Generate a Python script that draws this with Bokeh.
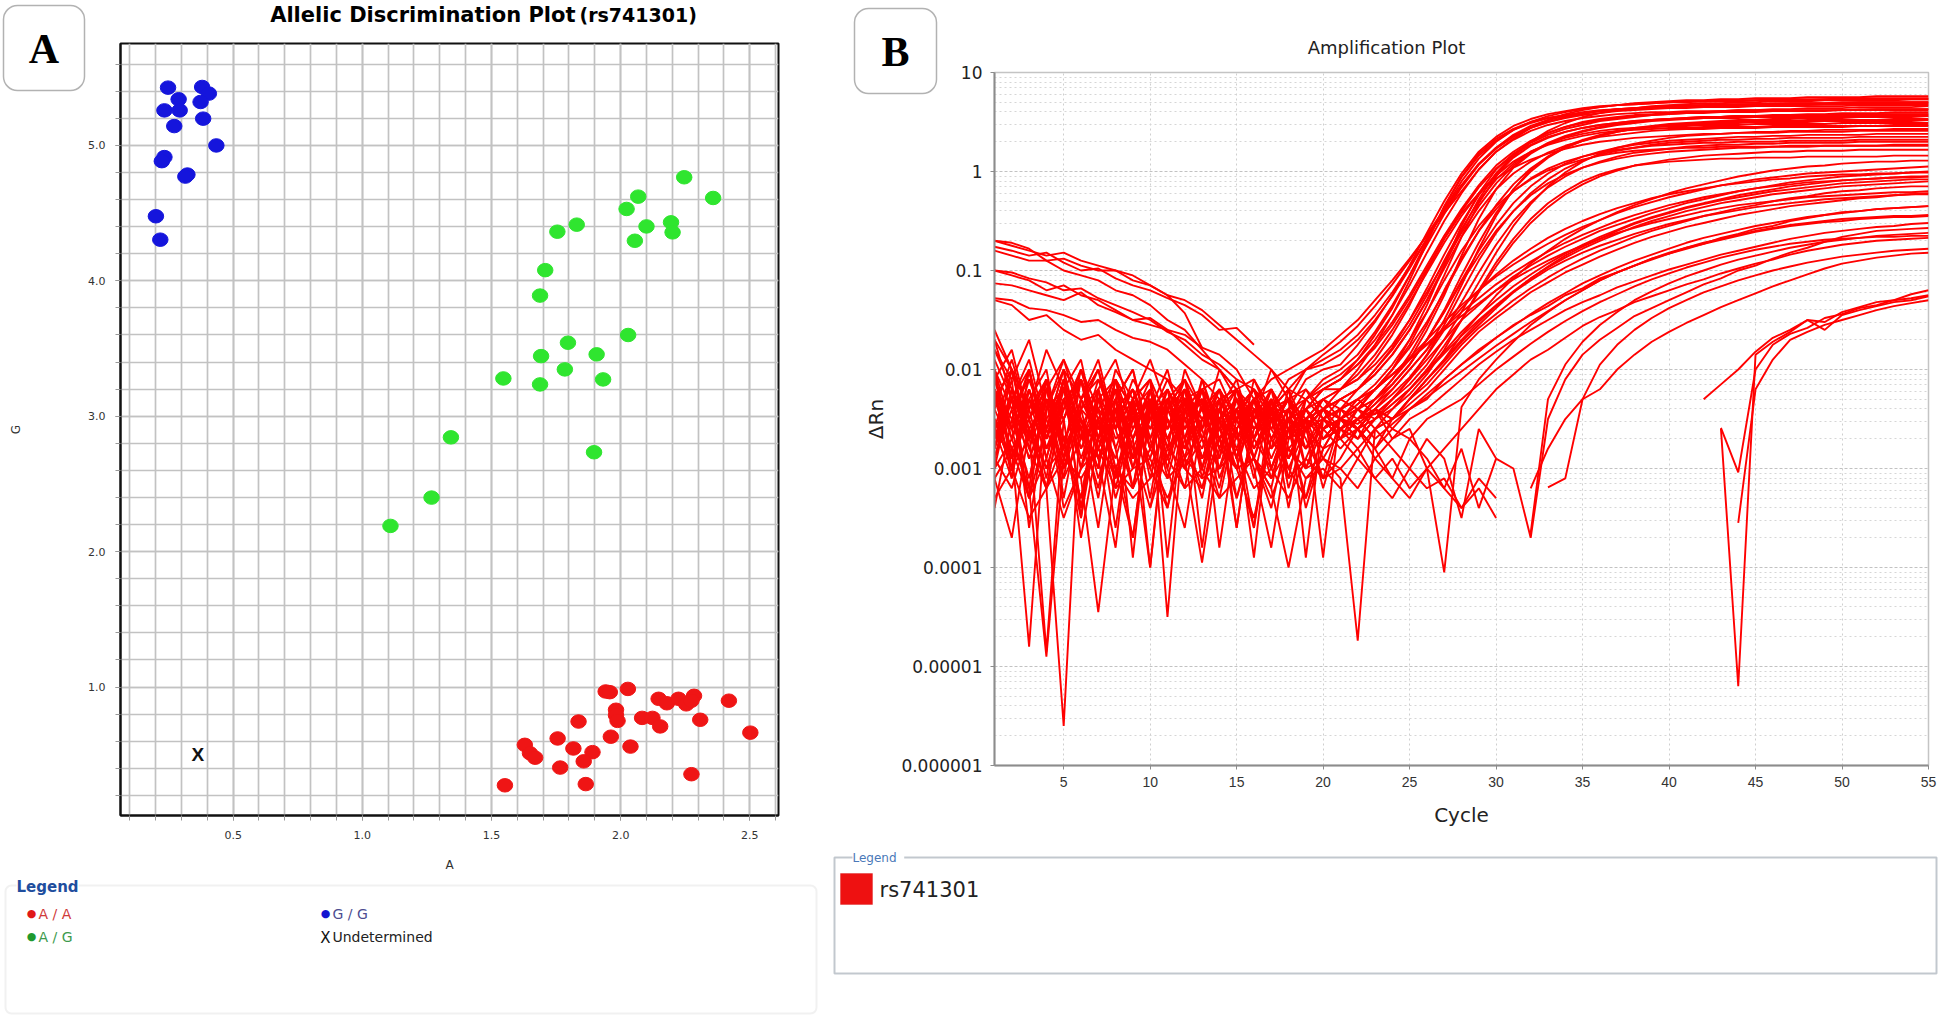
from bokeh.plotting import figure
from bokeh.models import (Range1d, FixedTicker, PrintfTickFormatter, CustomJSTickFormatter,
                          Label, BoxAnnotation, ColumnDataSource, GridBox)
from bokeh.layouts import row
from bokeh.embed import file_html
from bokeh.resources import INLINE
from bokeh.core.properties import value

nan = float("nan")

# ---------------- Panel A : allelic discrimination (A-allele vs G-allele signal)
aa_x = [1.942, 1.958, 2.028, 2.147, 2.179, 2.224, 2.254, 2.284, 2.274, 2.419,
        1.982, 1.982, 1.988, 1.837, 2.083, 2.123, 2.153, 2.308, 2.502, 1.756,
        1.962, 1.629, 1.649, 1.669, 1.817, 1.891, 1.857, 2.038, 1.766, 2.274,
        1.552, 1.865]
aa_y = [0.967, 0.962, 0.986, 0.913, 0.880, 0.913, 0.872, 0.935, 0.899, 0.899,
        0.832, 0.791, 0.750, 0.745, 0.772, 0.772, 0.709, 0.758, 0.663, 0.620,
        0.633, 0.573, 0.511, 0.478, 0.546, 0.519, 0.451, 0.560, 0.405, 0.356,
        0.274, 0.283]
ag_x = [2.246, 2.358, 2.023, 2.068, 2.100, 2.055, 2.195, 2.201, 1.755, 1.830,
        1.708, 1.688, 2.029, 1.796, 1.692, 1.907, 1.784, 1.546, 1.688, 1.932,
        1.343, 1.897, 1.268, 1.109]
ag_y = [4.765, 4.612, 4.531, 4.622, 4.402, 4.296, 4.432, 4.358, 4.363, 4.415,
        4.079, 3.891, 3.600, 3.543, 3.444, 3.457, 3.346, 3.279, 3.235, 3.272,
        2.844, 2.734, 2.399, 2.190]
gg_x = [0.248, 0.380, 0.406, 0.289, 0.234, 0.293, 0.374, 0.384, 0.272, 0.435,
        0.234, 0.224, 0.323, 0.315, 0.201, 0.218]
gg_y = [5.427, 5.432, 5.383, 5.341, 5.259, 5.259, 5.321, 5.198, 5.143, 5.000,
        4.914, 4.884, 4.785, 4.770, 4.477, 4.304]
und_x = [0.363]
und_y = [0.505]

a_major_x = [0.5, 1.0, 1.5, 2.0, 2.5]
a_minor_x = [0.1, 0.2, 0.3, 0.4, 0.5, 0.6, 0.7, 0.8, 0.9, 1.0, 1.1, 1.2, 1.3,
             1.4, 1.5, 1.6, 1.7, 1.8, 1.9, 2.0, 2.1, 2.2, 2.3, 2.4, 2.5, 2.6]
a_major_y = [1.0, 2.0, 3.0, 4.0, 5.0]
a_minor_y = [0.2, 0.4, 0.6, 0.8, 1.0, 1.2, 1.4, 1.6, 1.8, 2.0, 2.2, 2.4, 2.6,
             2.8, 3.0, 3.2, 3.4, 3.6, 3.8, 4.0, 4.2, 4.4, 4.6, 4.8, 5.0, 5.2,
             5.4, 5.6]

# ---------------- Panel B : amplification curves, log10(delta Rn) per cycle
cycles = list(range(1, 56))
b_major_x = [5, 10, 15, 20, 25, 30, 35, 40, 45, 50, 55]
b_major_y = [1e-6, 1e-5, 1e-4, 1e-3, 1e-2, 1e-1, 1.0, 10.0]

well_01 = [-1.8, -2.1, -1.7, -2.4, -1.9, -2.3, -2.0, -2.6, -2.1, -2.4,
           -2.0, -2.7, -2.2, -2.1, -2.5, -2.3, -2.1, -2.0, -1.9, -1.8,
           -1.65, -1.5, -1.3, -1.1, -0.88, -0.65, -0.42, -0.2, 0.02, 0.2,
           0.33, 0.44, 0.52, 0.58, 0.62, 0.65, 0.67, 0.69, 0.7, 0.71,
           0.72, 0.72, 0.73, 0.73, 0.74, 0.74, 0.74, 0.75, 0.75, 0.75,
           0.75, 0.76, 0.76, 0.76, 0.76]
well_02 = [-1.7, -2.0, -2.7, -2.2, -1.9, -2.5, -3.0, -2.1, -2.6, -2.3,
           -3.1, -2.4, -2.2, -2.8, -2.3, -2.9, -3.4, -2.6, -2.4, -2.7,
           -2.5, -2.3, -2.2, -2.0, -1.7, -1.35, -0.95, -0.55, -0.22, 0.02,
           0.18, 0.29, 0.37, 0.43, 0.47, 0.51, 0.53, 0.55, 0.57, 0.58,
           0.59, 0.6, 0.61, 0.62, 0.62, 0.63, 0.63, 0.64, 0.64, 0.64,
           0.65, 0.65, 0.65, 0.65, 0.66]
well_03 = [-2.9, -2.2, -2.6, -4.85, -2.5, -2.0, -2.6, -2.3, -3.2, -2.2,
           -2.6, -2.2, -3.1, -2.4, -2.1, -2.7, -2.3, -3.1, -2.9, -2.5,
           -2.7, -2.4, -2.3, -2.1, -1.9, -1.6, -1.25, -0.85, -0.48, -0.18,
           0.04, 0.18, 0.28, 0.35, 0.4, 0.44, 0.47, 0.49, 0.51, 0.52,
           0.53, 0.54, 0.55, 0.56, 0.56, 0.57, 0.57, 0.58, 0.58, 0.59,
           0.59, 0.59, 0.6, 0.6, 0.6]
well_04 = [-2.2, -3.1, -2.0, -2.7, -2.1, -3.4, -2.3, -2.8, -3.7, -2.4,
           -2.4, -2.1, -3.0, -2.3, -3.6, -2.4, -2.8, -2.2, -3.0, -2.6,
           -2.4, -2.6, -2.4, -2.2, -2.0, -1.8, -1.5, -1.15, -0.78, -0.45,
           -0.18, 0.02, 0.15, 0.25, 0.32, 0.37, 0.41, 0.44, 0.46, 0.48,
           0.49, 0.5, 0.51, 0.52, 0.52, 0.53, 0.53, 0.54, 0.54, 0.54,
           0.55, 0.55, 0.55, 0.55, 0.56]
well_05 = [-1.9, -2.3, -3.2, -2.1, -2.9, -2.4, -2.0, -2.8, -2.3, -4.0,
           -2.3, -2.9, -2.1, -2.7, -3.0, -2.3, -2.5, -3.1, -2.3, -2.2,
           -2.2, -2.1, -1.9, -1.65, -1.35, -1.0, -0.68, -0.42, -0.22, -0.07,
           0.04, 0.12, 0.18, 0.23, 0.27, 0.3, 0.32, 0.34, 0.35, 0.36,
           0.37, 0.38, 0.38, 0.39, 0.39, 0.39, 0.4, 0.4, 0.4, 0.4,
           0.41, 0.41, 0.41, 0.41, 0.41]
well_06 = [-2.6, -2.0, -2.4, -3.1, -2.1, -2.6, -3.2, -2.3, -2.0, -2.8,
           -2.2, -3.0, -2.5, nan, -2.3, -2.7, -2.2, -2.9, -2.5, -2.9,
           -2.6, -2.5, -2.3, -2.1, -1.85, -1.55, -1.2, -0.88, -0.6, -0.38,
           -0.2, -0.07, 0.03, 0.1, 0.15, 0.19, 0.22, 0.24, 0.26, 0.27,
           0.28, 0.29, 0.29, 0.3, 0.3, 0.3, 0.31, 0.31, 0.31, 0.31,
           0.32, 0.32, 0.32, 0.32, 0.32]
well_07 = [-3.0, -2.2, -2.7, -2.1, -3.3, -2.4, -2.2, -3.0, -2.6, -2.2,
           -2.9, -2.4, -2.3, -3.8, -2.6, -2.3, -3.0, -2.5, -2.6, -2.8,
           -2.5, -2.4, -2.2, -2.0, -1.75, -1.42, -1.05, -0.66, -0.32, -0.05,
           0.15, 0.3, 0.41, 0.49, 0.55, 0.59, 0.62, 0.64, 0.66, 0.67,
           0.68, 0.69, 0.69, 0.7, 0.7, 0.71, 0.71, 0.71, 0.72, 0.72,
           0.72, 0.72, 0.72, 0.73, 0.73]
well_08 = [-0.8, -0.85, -0.9, -0.9, -1.0, -1.05, -1.1, -1.2, -1.25, -1.35,
           -1.5, -1.6, -1.8, -2.0, -2.2, -2.4, -2.5, -2.3, -2.6, -2.4,
           -2.3, -2.2, -2.0, -1.8, -1.55, -1.25, -0.9, -0.58, -0.3, -0.08,
           0.08, 0.2, 0.28, 0.34, 0.38, 0.41, 0.43, 0.44, 0.45, 0.46,
           0.46, 0.47, 0.47, 0.47, 0.48, 0.48, 0.48, 0.48, 0.48, 0.49,
           0.49, 0.49, 0.49, 0.49, 0.49]
well_09 = [-1.3, -1.35, -1.5, -1.45, -1.6, -1.7, -1.65, -1.8, -1.9, -2.0,
           -2.1, -2.3, -2.2, -2.5, -2.4, -2.7, -2.4, -2.6, -2.5, -2.3,
           -2.4, -2.2, -2.05, -1.85, -1.6, -1.3, -0.95, -0.6, -0.28, -0.02,
           0.17, 0.3, 0.39, 0.45, 0.5, 0.53, 0.55, 0.57, 0.58, 0.59,
           0.6, 0.6, 0.61, 0.61, 0.61, 0.62, 0.62, 0.62, 0.62, 0.62,
           0.62, 0.63, 0.63, 0.63, 0.63]
well_10 = [-2.7, -2.1, -3.6, -2.4, -2.2, -2.9, -2.4, -2.1, -3.0, -2.4,
           -2.3, -2.8, -2.2, -3.1, -2.6, -3.9, -2.4, -3.4, -2.5, -2.6,
           -2.5, -2.7, -2.5, -2.3, -2.1, -1.85, -1.55, -1.22, -0.9, -0.62,
           -0.4, -0.22, -0.08, 0.03, 0.11, 0.17, 0.21, 0.24, 0.27, 0.29,
           0.3, 0.31, 0.32, 0.32, 0.33, 0.33, 0.34, 0.34, 0.34, 0.34,
           0.35, 0.35, 0.35, 0.35, 0.35]
well_11 = [-2.1, -2.7, -2.3, -2.0, -2.9, -2.3, -2.1, -2.6, -2.3, -3.1,
           -2.4, -2.7, -3.3, -2.4, -2.9, -2.3, -2.7, -2.5, -2.2, -2.4,
           -2.2, -2.0, -1.75, -1.45, -1.1, -0.72, -0.35, -0.05, 0.18, 0.33,
           0.43, 0.5, 0.54, 0.57, 0.59, 0.61, 0.62, 0.63, 0.64, 0.65,
           0.65, 0.66, 0.66, 0.66, 0.67, 0.67, 0.67, 0.67, 0.68, 0.68,
           0.68, 0.68, 0.68, 0.68, 0.68]
well_12 = [-2.0, -2.9, -2.5, -2.1, -2.8, -2.0, -2.4, -3.0, -3.7, -2.4,
           -2.7, -2.3, -2.9, -2.5, -3.6, -2.4, -2.6, -2.3, -2.8, -2.5,
           -2.4, -2.3, -2.15, -1.95, -1.7, -1.42, -1.1, -0.8, -0.55, -0.35,
           -0.2, -0.08, 0.01, 0.07, 0.12, 0.16, 0.19, 0.21, 0.22, 0.23,
           0.24, 0.24, 0.25, 0.25, 0.25, 0.25, 0.26, 0.26, 0.26, 0.26,
           0.26, 0.26, 0.26, 0.26, 0.26]
well_13 = [-1.8, -2.2, -2.8, -3.2, -5.6, -2.3, -1.9, -2.6, -2.2, -2.8,
           -2.3, -2.1, -2.7, -3.0, -2.4, -2.2, -2.7, -2.4, -2.1, -2.0,
           -1.95, -1.75, -1.52, -1.25, -0.95, -0.62, -0.3, -0.02, 0.2, 0.35,
           0.46, 0.53, 0.58, 0.61, 0.64, 0.66, 0.67, 0.68, 0.69, 0.7,
           0.7, 0.71, 0.71, 0.71, 0.72, 0.72, 0.72, 0.72, 0.73, 0.73,
           0.73, 0.73, 0.73, 0.73, 0.73]
well_14 = [-2.3, -2.8, -4.8, -2.4, -2.0, -2.7, -2.3, -2.1, -2.9, -2.3,
           -2.7, -3.2, -2.3, -2.7, -2.4, -2.9, -2.3, -2.7, -2.3, -2.5,
           -2.3, -2.2, -2.0, -1.78, -1.5, -1.18, -0.84, -0.52, -0.24, -0.02,
           0.14, 0.26, 0.34, 0.4, 0.44, 0.47, 0.49, 0.51, 0.52, 0.53,
           0.54, 0.55, 0.55, 0.56, 0.56, 0.56, 0.57, 0.57, 0.57, 0.57,
           0.58, 0.58, 0.58, 0.58, 0.58]
well_15 = [-2.2, -2.6, -2.0, -2.9, -2.3, -2.7, -2.1, -2.5, -3.0, -2.3,
           -4.5, -2.4, -2.7, -2.2, -2.5, -2.9, -2.4, -3.0, -2.6, -2.4,
           -2.6, -2.5, -2.35, -2.15, -1.95, -1.7, -1.42, -1.1, -0.8, -0.54,
           -0.32, -0.15, -0.02, 0.08, 0.15, 0.2, 0.24, 0.27, 0.29, 0.31,
           0.32, 0.33, 0.34, 0.35, 0.35, 0.36, 0.36, 0.37, 0.37, 0.37,
           0.37, 0.38, 0.38, 0.38, 0.38]
well_16 = [-2.6, -2.9, -2.2, -2.7, -2.1, -3.0, -2.5, -2.2, -2.7, -4.0,
           -2.4, -2.2, -2.9, -2.6, -2.3, -2.5, -3.1, -2.5, -2.8, -2.6,
           -2.5, -2.6, -2.5, -2.4, -2.25, -2.05, -1.8, -1.5, -1.2, -0.92,
           -0.68, -0.48, -0.32, -0.2, -0.1, -0.03, 0.02, 0.06, 0.08, 0.1,
           0.11, 0.12, 0.13, 0.13, 0.14, 0.14, 0.14, 0.15, 0.15, 0.15,
           0.15, 0.15, 0.16, 0.16, 0.16]
well_17 = [-2.8, -2.0, -2.6, -2.3, -3.1, -2.1, -2.5, -2.9, -2.3, -2.1,
           -3.9, -2.3, -2.6, -2.2, -2.7, -2.5, -2.2, -2.6, -2.4, -2.2,
           -2.1, -1.9, -1.65, -1.38, -1.05, -0.7, -0.36, -0.06, 0.16, 0.31,
           0.42, 0.49, 0.54, 0.57, 0.6, 0.62, 0.63, 0.64, 0.65, 0.66,
           0.66, 0.67, 0.67, 0.68, 0.68, 0.68, 0.69, 0.69, 0.69, 0.69,
           0.7, 0.7, 0.7, 0.7, 0.7]
well_18 = [-2.0, -3.0, -2.3, -2.7, -2.1, -2.6, -2.2, -3.2, -2.5, -2.7,
           -2.2, -2.6, -2.3, -2.9, -2.2, -2.7, -2.4, -2.9, -2.5, -2.4,
           -2.3, -2.2, -2.05, -1.85, -1.6, -1.3, -0.98, -0.66, -0.4, -0.18,
           -0.02, 0.1, 0.19, 0.26, 0.31, 0.35, 0.37, 0.39, 0.41, 0.42,
           0.43, 0.43, 0.44, 0.44, 0.44, 0.45, 0.45, 0.45, 0.45, 0.45,
           0.46, 0.46, 0.46, 0.46, 0.46]
well_19 = [-2.6, -3.1, -2.2, -2.8, -2.5, -3.7, -2.7, -2.4, -3.2, -2.3,
           -2.9, -2.5, -2.3, -3.0, -2.6, -3.6, -2.5, -2.9, -2.4, -2.7,
           -2.5, -2.7, -2.4, -2.5, -2.3, -2.1, -1.9, -1.65, -1.45, -1.25,
           -1.08, -0.93, -0.8, -0.68, -0.58, -0.49, -0.41, -0.34, -0.28, -0.22,
           -0.17, -0.13, -0.09, -0.05, -0.02, 0.01, 0.03, 0.05, 0.06, 0.08,
           0.09, 0.1, 0.1, 0.11, 0.11]
well_20 = [-2.3, -2.0, -2.7, -2.3, -3.0, -2.5, -3.3, -2.3, -2.7, -2.2,
           -3.0, -2.3, -3.8, -2.5, -2.2, -2.9, -3.2, -2.4, -3.0, -2.5,
           -2.6, -2.4, -2.6, -2.4, -2.2, -2.0, -1.82, -1.62, -1.45, -1.3,
           -1.16, -1.04, -0.93, -0.83, -0.74, -0.66, -0.59, -0.52, -0.46, -0.41,
           -0.36, -0.32, -0.28, -0.24, -0.21, -0.18, -0.15, -0.13, -0.11, -0.09,
           -0.08, -0.07, -0.06, -0.05, -0.05]
well_21 = [-2.8, -2.3, -2.6, -3.2, -2.3, -2.1, -2.9, -3.8, -2.3, -3.0,
           -2.5, nan, -2.3, -2.7, -2.5, -2.3, -3.0, -2.6, -3.3, -2.8,
           -2.5, -2.6, -2.8, -2.5, -2.35, -2.2, -2.0, -1.8, -1.62, -1.48,
           -1.35, -1.22, -1.12, -1.02, -0.94, -0.86, -0.79, -0.72, -0.66, -0.61,
           -0.56, -0.52, -0.48, -0.44, -0.41, -0.38, -0.35, -0.33, -0.31, -0.29,
           -0.27, -0.26, -0.24, -0.23, -0.22]
well_22 = [-2.2, -2.5, -3.1, -2.3, -2.7, -3.5, -2.5, -2.2, -3.9, -2.3,
           -2.7, -2.3, -2.5, -2.2, -2.9, -3.6, -2.3, -3.2, -2.6, -2.4,
           -2.7, -2.5, -2.4, -2.6, -2.4, -2.3, -2.1, -1.95, -1.8, -1.68,
           -1.55, -1.45, -1.36, -1.25, -1.18, -1.08, -1.02, -0.95, -0.88, -0.83,
           -0.77, -0.73, -0.67, -0.63, -0.58, -0.55, -0.5, -0.47, -0.44, -0.41,
           -0.4, -0.38, -0.37, -0.36, -0.35]
well_23 = [-2.9, -2.3, -2.0, -2.7, -2.3, -3.0, -2.2, -2.7, -2.5, -2.9,
           -2.3, -2.9, -2.6, -2.3, -3.3, -2.6, nan, -2.4, -2.7, -3.1,
           -2.5, -2.6, -2.4, -2.7, -2.5, -2.4, -2.25, -2.1, -1.95, -1.82,
           -1.7, -1.6, -1.5, -1.4, -1.32, -1.25, -1.17, -1.11, -1.05, -0.99,
           -0.94, -0.89, -0.84, -0.8, -0.76, -0.72, -0.68, -0.65, -0.62, -0.6,
           -0.58, -0.56, -0.55, -0.53, -0.52]
well_24 = [-0.7, -0.75, -0.8, -0.85, -0.82, -0.9, -0.95, -1.0, -1.1, -1.15,
           -1.25, -1.3, -1.4, -1.55, -1.7, -1.85, -2.0, -2.3, -2.2, -2.5,
           -2.4, -2.3, -2.45, -2.3, -2.1, -1.9, -1.7, -1.5, -1.35, -1.2,
           -1.06, -0.95, -0.85, -0.76, -0.68, -0.6, -0.54, -0.48, -0.42, -0.37,
           -0.32, -0.28, -0.24, -0.2, -0.17, -0.14, -0.11, -0.09, -0.07, -0.05,
           -0.04, -0.03, -0.02, -0.01, 0.0]
well_25 = [-2.9, -2.4, -3.3, -2.6, -3.1, -2.7, -2.5, -3.6, -2.4, -3.0,
           -3.4, -2.7, -3.2, -2.5, -3.0, -3.5, -2.7, -3.0, -3.3, -2.6,
           -2.8, -2.6, -2.9, -2.7, -2.6, -3.0, -2.8, -2.6, -2.4, -2.2,
           -2.05, -1.9, -1.8, -1.68, -1.56, -1.47, -1.4, -1.32, -1.26, -1.2,
           -1.14, -1.09, -1.03, -0.98, -0.93, -0.89, -0.84, -0.8, -0.77, -0.74,
           -0.72, -0.7, -0.69, -0.68, -0.67]
well_26 = [-1.0, -1.05, -1.1, -1.2, -1.15, -1.25, -1.3, -1.4, -1.5, -1.55,
           -1.6, -1.75, -1.9, -2.0, -2.2, -2.1, -2.4, -2.3, -2.6, -2.4,
           -2.5, -2.6, -2.4, -2.5, -2.3, -2.15, -1.95, -1.75, -1.58, -1.44,
           -1.3, -1.18, -1.07, -0.97, -0.88, -0.8, -0.73, -0.66, -0.6, -0.55,
           -0.5, -0.45, -0.41, -0.37, -0.34, -0.3, -0.27, -0.25, -0.22, -0.2,
           -0.19, -0.17, -0.16, -0.15, -0.15]
well_27 = [-3.1, -3.7, -2.6, -3.2, -2.7, -2.4, -3.1, -2.5, -2.8, -3.4,
           -2.5, -3.0, -2.7, -3.3, -2.5, -3.0, -3.8, -2.7, -2.6, -3.1,
           -2.9, -2.6, -2.8, -3.1, -2.7, -2.9, -3.2, -2.8, -3.4, -2.9,
           -3.0, -3.7, -2.5, -2.1, -1.85, -1.7, -1.58, -1.46, -1.38, -1.3,
           -1.22, -1.14, -1.08, -1.0, -0.95, -0.88, -0.82, -0.77, -0.71, -0.66,
           -0.63, -0.6, -0.59, -0.58, -0.57]
well_28 = [-2.5, -3.0, -2.7, -2.3, -3.4, -3.0, -2.5, -3.3, -2.7, -2.4,
           -3.0, -3.6, -2.5, -2.7, -3.3, -2.7, -3.0, -2.5, -3.4, -2.8,
           -2.7, -2.9, -2.6, -2.8, -3.0, -2.7, -2.9, -3.5, -2.6, -2.9,
           nan, -3.2, -2.8, -2.5, -2.3, -2.2, -2.0, -1.85, -1.72, -1.62,
           -1.53, -1.45, -1.37, -1.3, -1.23, -1.16, -1.1, -1.04, -0.98, -0.93,
           -0.9, -0.87, -0.85, -0.83, -0.82]
well_29 = [-0.7, -0.72, -0.78, -0.9, -0.88, -0.95, -1.0, -1.0, -1.05, -1.15,
           -1.25, -1.43, -1.78, nan, nan, -2.2, -2.5, -2.4, -2.6, -2.5,
           -2.4, -2.5, -2.3, -2.15, -1.95, -1.7, -1.42, -1.12, -0.85, -0.6,
           -0.4, -0.24, -0.12, -0.03, 0.04, 0.09, 0.13, 0.16, 0.18, 0.2,
           0.21, 0.22, 0.23, 0.24, 0.24, 0.25, 0.25, 0.25, 0.26, 0.26,
           0.26, 0.26, 0.27, 0.27, 0.27]
well_30 = [-0.76, -0.8, -0.85, -0.82, -0.92, -1.0, -0.98, -1.08, -1.15, -1.2,
           -1.28, -1.35, -1.45, -1.6, -1.58, -1.75, nan, -2.6, -2.4, -2.7,
           -2.5, -2.6, -2.4, -2.5, -2.3, -2.1, -1.92, -1.72, -1.55, -1.38,
           -1.22, -1.08, -0.96, -0.85, -0.76, -0.68, -0.6, -0.53, -0.47, -0.42,
           -0.37, -0.33, -0.29, -0.26, -0.23, -0.2, -0.18, -0.16, -0.14, -0.12,
           -0.11, -0.1, -0.09, -0.08, -0.08]
well_31 = [-1.13, -1.15, -1.2, -1.25, -1.3, -1.22, -1.35, -1.42, -1.5, -1.48,
           -1.6, -1.65, -1.78, -1.85, -2.0, -2.3, -2.2, -2.5, -2.4, -2.2,
           -2.1, -1.95, -1.75, -1.52, -1.25, -0.95, -0.65, -0.38, -0.14, 0.06,
           0.2, 0.31, 0.39, 0.45, 0.49, 0.52, 0.54, 0.56, 0.57, 0.58,
           0.59, 0.59, 0.6, 0.6, 0.6, 0.61, 0.61, 0.61, 0.61, 0.62,
           0.62, 0.62, 0.62, 0.62, 0.62]
well_32 = [-1.28, -1.3, -1.38, -1.4, -1.45, -1.52, -1.5, -1.6, -1.68, -1.72,
           -1.8, -1.95, -2.1, -2.3, -2.2, -2.5, -2.4, -2.6, -2.5, -2.7,
           -2.6, -2.5, -2.35, -2.2, -2.0, -1.8, -1.58, -1.38, -1.2, -1.04,
           -0.9, -0.78, -0.67, -0.58, -0.5, -0.43, -0.37, -0.32, -0.27, -0.23,
           -0.2, -0.17, -0.14, -0.12, -0.1, -0.08, -0.07, -0.05, -0.04, -0.03,
           -0.03, -0.02, -0.02, -0.01, -0.01]
well_33 = [-2.9, -3.2, -2.6, -3.0, -2.8, -3.3, -2.7, -3.1, nan, -3.4,
           -2.8, -3.0, -3.2, -2.7, -3.0, -2.9, -3.3, -2.8, -3.1, -2.9,
           -3.0, -2.8, -3.1, -2.9, -3.2, -3.0, -4.05, -2.38, -2.1, -1.9,
           -1.72, -1.55, -1.42, -1.3, -1.2, -1.1, -1.02, -0.95, -0.88, -0.82,
           -0.77, -0.72, -0.68, -0.64, -0.6, -0.57, -0.54, -0.52, -0.5, -0.48,
           -0.47, -0.46, -0.45, -0.45, -0.44]
well_34 = [-3.1, -2.8, -3.3, -2.9, -3.5, -3.0, -2.8, -3.2, -3.0, -2.9,
           -3.3, -2.9, -3.1, -3.0, -2.8, -3.2, -3.0, -3.3, -2.9, -3.1,
           -3.0, -3.2, -2.9, -3.1, -3.3, -3.0, -3.2, -3.4, -3.1, -3.3,
           nan, -3.65, -2.3, -1.95, -1.72, -1.55, -1.42, -1.3, -1.21, -1.13,
           -1.06, -1.0, -0.94, -0.89, -0.85, -0.81, -0.77, -0.74, -0.71, -0.69,
           -0.67, -0.65, -0.64, -0.63, -0.62]
well_35 = [-3.3, -3.0, -3.5, -3.2, -2.9, -3.1, -4.45, -3.0, -3.3, -3.1,
           -2.9, -3.2, -3.0, -3.3, -3.1, -2.9, -3.2, -4.0, -3.1, -3.0,
           -3.2, -2.9, -3.1, -3.3, -3.0, -3.2, -3.1, -3.4, -3.2, -3.5,
           nan, nan, -3.19, -3.1, -2.3, -1.95, -1.75, -1.6, -1.48, -1.38,
           -1.3, -1.22, -1.16, -1.1, -1.05, -1.0, -0.96, -0.92, -0.89, -0.86,
           -0.84, -0.82, -0.8, -0.79, -0.78]
well_36 = [-3.0, -2.7, -3.2, -4.9, -2.9, -3.1, -2.8, -3.0, -3.2, -2.8,
           -3.1, -2.9, -3.95, -2.8, -3.0, -2.9, -3.1, -2.8, -3.0, -2.9,
           -3.1, -4.74, -2.6, -2.5, -2.3, -2.1, -1.9, -1.7, -1.52, -1.36,
           -1.22, -1.1, -0.99, -0.9, -0.82, -0.75, -0.69, -0.63, -0.58, -0.53,
           -0.49, -0.45, -0.42, -0.39, -0.36, -0.34, -0.32, -0.3, -0.28, -0.27,
           -0.26, -0.25, -0.24, -0.23, -0.23]
well_37 = [nan] * 41 + [-2.3, -2.15, -2.0, -1.82, -1.68, -1.6, -1.5, -1.52,
                        -1.42, -1.37, -1.32, -1.3, -1.24, -1.2]
well_38 = [nan] * 42 + [-2.6, -5.2, -1.85, -1.72, -1.62, -1.5, -1.6, -1.45,
                        -1.4, -1.36, -1.32, -1.3, -1.26]
well_39 = [nan] * 42 + [-2.59, -3.04, -2.0, -1.75, -1.64, -1.58, -1.48, -1.44,
                        -1.38, -1.35, -1.3, -1.28, -1.25]
well_40 = [nan] * 43 + [-3.55, -2.2, -1.9, -1.7, -1.62, -1.55, -1.5, -1.45,
                        -1.4, -1.36, -1.33, -1.3]
well_41 = [-2.4, -1.9, -2.5, -2.2, -2.8, -2.1, -2.6, -2.3, -2.0, -2.7,
           -2.3, -2.6, -2.2, -2.8, -2.4, -2.2, -2.7, -2.4, -2.3, -2.1,
           -2.0, -1.85, -1.62, -1.35, -1.05, -0.74, -0.43, -0.16, 0.07, 0.24,
           0.37, 0.46, 0.52, 0.56, 0.59, 0.61, 0.63, 0.64, 0.65, 0.66,
           0.66, 0.67, 0.67, 0.67, 0.68, 0.68, 0.68, 0.68, 0.68, 0.68,
           0.69, 0.69, 0.69, 0.69, 0.69]
well_42 = [-2.1, -2.6, -2.3, -2.9, -2.2, -2.5, -2.8, -2.2, -2.5, -2.3,
           -2.9, -2.2, -2.5, -2.4, -2.8, -2.3, -2.5, -2.7, -2.4, -2.6,
           -2.5, -2.4, -2.3, -2.15, -1.95, -1.7, -1.4, -1.05, -0.72, -0.42,
           -0.18, 0.0, 0.14, 0.24, 0.31, 0.36, 0.4, 0.43, 0.45, 0.47,
           0.48, 0.49, 0.5, 0.5, 0.51, 0.51, 0.51, 0.52, 0.52, 0.52,
           0.52, 0.52, 0.53, 0.53, 0.53]
well_43 = [-2.3, -2.0, -2.8, -2.3, -2.5, -2.1, -2.9, -2.4, -2.2, -2.6,
           -2.2, -2.5, -2.8, -2.3, -2.2, -2.6, -2.4, -2.2, -2.3, -2.15,
           -2.05, -1.9, -1.7, -1.45, -1.15, -0.82, -0.5, -0.22, 0.02, 0.2,
           0.32, 0.41, 0.47, 0.51, 0.54, 0.56, 0.58, 0.59, 0.6, 0.6,
           0.61, 0.61, 0.61, 0.62, 0.62, 0.62, 0.62, 0.62, 0.62, 0.62,
           0.63, 0.63, 0.63, 0.63, 0.63]
well_44 = [-2.7, -2.3, -2.5, -2.1, -2.8, -2.4, -2.6, -2.2, -2.9, -2.5,
           -2.3, -2.7, -2.4, -2.6, -3.0, -2.4, -2.6, -2.3, -3.9, -2.5,
           -2.6, -2.7, -2.5, -2.35, -2.2, -2.0, -1.76, -1.5, -1.22, -0.96,
           -0.72, -0.52, -0.36, -0.23, -0.13, -0.05, 0.01, 0.06, 0.09, 0.12,
           0.14, 0.16, 0.17, 0.18, 0.19, 0.2, 0.2, 0.21, 0.21, 0.21,
           0.22, 0.22, 0.22, 0.22, 0.22]
well_45 = [-2.0, -2.4, -2.1, -2.6, -2.0, -2.3, -2.7, -2.1, -2.4, -2.2,
           -2.6, -2.1, -2.4, -2.2, -2.5, -2.2, -2.4, -2.1, -2.0, -1.95,
           -1.85, -1.7, -1.5, -1.26, -0.98, -0.68, -0.38, -0.1, 0.13, 0.3,
           0.42, 0.5, 0.56, 0.6, 0.63, 0.65, 0.67, 0.68, 0.69, 0.7,
           0.71, 0.71, 0.72, 0.72, 0.72, 0.73, 0.73, 0.73, 0.73, 0.74,
           0.74, 0.74, 0.74, 0.74, 0.74]
well_46 = [-2.5, -2.9, -2.3, -2.6, -2.2, -2.8, -2.4, -3.1, -2.3, -2.6,
           -2.4, -2.8, -2.5, -2.3, -2.7, -2.4, -2.9, -2.5, -2.6, -2.3,
           -2.5, -2.4, -2.5, -2.35, -2.2, -2.02, -1.84, -1.66, -1.5, -1.35,
           -1.21, -1.08, -0.97, -0.87, -0.78, -0.7, -0.63, -0.56, -0.5, -0.45,
           -0.4, -0.36, -0.32, -0.29, -0.26, -0.23, -0.21, -0.19, -0.17, -0.15,
           -0.14, -0.13, -0.12, -0.11, -0.1]
well_47 = [-2.2, -2.7, -2.1, -2.5, -3.0, -2.3, -2.6, -2.2, -2.8, -2.4,
           -2.6, -2.3, -2.9, -2.4, -2.6, -2.3, -2.8, -2.5, -2.4, -2.3,
           -2.2, -2.1, -1.95, -1.75, -1.5, -1.22, -0.92, -0.62, -0.35, -0.12,
           0.06, 0.19, 0.29, 0.36, 0.41, 0.45, 0.48, 0.5, 0.52, 0.53,
           0.54, 0.55, 0.55, 0.56, 0.56, 0.56, 0.57, 0.57, 0.57, 0.57,
           0.57, 0.58, 0.58, 0.58, 0.58]
well_48 = [-2.6, -2.3, -2.9, -2.4, -2.2, -2.7, -2.4, -3.1, -2.5, -2.3,
           -2.8, -2.5, -2.3, -2.7, -2.4, -2.8, -2.5, -2.3, -2.6, -2.5,
           -2.7, -2.5, -2.45, -2.3, -2.15, -1.95, -1.7, -1.42, -1.12, -0.82,
           -0.55, -0.33, -0.15, -0.01, 0.1, 0.18, 0.24, 0.28, 0.31, 0.34,
           0.36, 0.37, 0.38, 0.39, 0.4, 0.4, 0.41, 0.41, 0.42, 0.42,
           0.42, 0.42, 0.43, 0.43, 0.43]
well_49 = [-2.4, -2.8, -2.5, -3.2, -2.3, -2.6, -2.9, -2.4, -2.7, -2.2,
           -2.7, -2.4, -3.0, -2.5, -2.7, -2.3, -2.6, -2.9, -2.5, -2.7,
           -2.6, -2.8, -2.6, -2.5, -2.4, -2.25, -2.1, -1.95, -1.82, -1.68,
           -1.56, -1.44, -1.33, -1.23, -1.13, -1.05, -0.97, -0.9, -0.84, -0.78,
           -0.72, -0.67, -0.63, -0.59, -0.55, -0.52, -0.49, -0.46, -0.44, -0.42,
           -0.4, -0.38, -0.37, -0.36, -0.35]
well_50 = [-2.3, -2.6, -2.2, -2.8, -2.4, -2.1, -2.7, -2.3, -2.9, -2.4,
           -2.2, -2.6, -2.4, -2.9, -2.3, -2.6, -2.4, -2.7, -2.5, -2.4,
           -2.3, -2.4, -2.2, -2.05, -1.88, -1.7, -1.52, -1.35, -1.2, -1.06,
           -0.94, -0.83, -0.73, -0.64, -0.56, -0.49, -0.42, -0.36, -0.31, -0.26,
           -0.22, -0.18, -0.14, -0.11, -0.08, -0.06, -0.04, -0.02, -0.01, 0.0,
           0.01, 0.02, 0.03, 0.04, 0.05]
# wells 51-60: cycles 1-20 (baseline) followed by cycles 21-55
well_51 = ([-1.7, -2.3, -1.9, -2.6, -2.0, -3.5, -2.2, -1.9, -2.5, -2.1,
            -2.8, -2.0, -2.4, -2.2, -2.9, -2.1, -2.5, -2.3, -2.0, -1.9]
           + [-1.8, -1.65, -1.45, -1.22, -0.96, -0.68, -0.4, -0.14, 0.08, 0.24,
              0.36, 0.44, 0.5, 0.54, 0.57, 0.59, 0.61, 0.62, 0.63, 0.64,
              0.64, 0.65, 0.65, 0.65, 0.66, 0.66, 0.66, 0.66, 0.66, 0.66,
              0.67, 0.67, 0.67, 0.67, 0.67])
well_52 = ([-3.4, -2.5, -2.0, -2.8, -2.3, -2.6, -3.0, -2.1, -2.4, -3.3,
            -2.3, -2.7, -2.1, -2.6, -2.4, -3.1, -2.3, -2.6, -2.8, -2.4]
           + [-2.5, -2.35, -2.2, -2.0, -1.78, -1.52, -1.22, -0.9, -0.6, -0.34,
              -0.13, 0.03, 0.15, 0.24, 0.31, 0.36, 0.4, 0.43, 0.45, 0.46,
              0.47, 0.48, 0.49, 0.49, 0.5, 0.5, 0.5, 0.5, 0.51, 0.51,
              0.51, 0.51, 0.51, 0.51, 0.52])
well_53 = ([-2.0, -2.6, -3.3, -2.2, -2.5, -2.1, -2.8, -2.4, -2.2, -2.7,
            -3.4, -2.4, -2.2, -2.7, -2.5, -2.2, -2.8, -2.6, -2.5, -3.2]
           + [-2.6, -2.5, -2.7, -2.55, -2.4, -2.28, -2.15, -2.02, -1.89, -1.76,
              -1.64, -1.52, -1.41, -1.3, -1.2, -1.1, -1.02, -0.95, -0.89, -0.83,
              -0.78, -0.73, -0.69, -0.65, -0.61, -0.58, -0.55, -0.53, -0.51, -0.5,
              -0.48, -0.47, -0.46, -0.46, -0.45])
well_54 = ([-1.6, -2.0, -2.4, -1.8, -2.2, -1.9, -2.7, -2.0, -2.3, -1.9,
            -2.4, -2.1, -2.6, -2.0, -2.3, -2.5, -2.0, -2.2, -2.0, -1.85]
           + [-1.72, -1.56, -1.36, -1.14, -0.9, -0.64, -0.38, -0.14, 0.07, 0.23,
              0.35, 0.44, 0.5, 0.55, 0.58, 0.61, 0.63, 0.64, 0.65, 0.66,
              0.67, 0.67, 0.68, 0.68, 0.68, 0.69, 0.69, 0.69, 0.69, 0.7,
              0.7, 0.7, 0.7, 0.7, 0.7])
well_55 = ([-2.8, -2.2, -2.5, -3.0, -2.4, -2.0, -2.6, -2.3, -2.9, -2.5,
            -2.1, -2.5, -3.0, -2.4, -2.2, -2.8, -2.4, -2.2, -2.6, -2.4]
           + [-2.5, -2.35, -2.2, -2.05, -1.9, -1.75, -1.6, -1.46, -1.33, -1.2,
              -1.09, -0.99, -0.9, -0.82, -0.75, -0.68, -0.62, -0.57, -0.52, -0.48,
              -0.44, -0.4, -0.37, -0.34, -0.32, -0.3, -0.28, -0.26, -0.25, -0.24,
              -0.23, -0.22, -0.21, -0.21, -0.2])
well_56 = ([-2.1, -1.8, -2.5, -2.2, -2.9, -2.3, -2.0, -2.6, -2.3, -2.1,
            -2.5, -2.8, -2.2, -2.5, -2.3, -2.7, -2.2, -2.5, -2.3, -2.2]
           + [-2.1, -1.95, -1.78, -1.55, -1.28, -0.98, -0.68, -0.4, -0.16, 0.03,
              0.17, 0.27, 0.35, 0.4, 0.44, 0.47, 0.49, 0.51, 0.52, 0.53,
              0.53, 0.54, 0.54, 0.54, 0.55, 0.55, 0.55, 0.55, 0.55, 0.55,
              0.56, 0.56, 0.56, 0.56, 0.56])
well_57 = ([-2.5, -3.0, -2.3, -2.7, -2.2, -2.6, -3.6, -2.4, -2.2, -2.8,
            -2.4, -2.2, -2.6, -3.2, -2.4, -2.6, -2.3, -2.7, -2.4, -2.6]
           + [-2.5, -2.55, -2.4, -2.25, -2.08, -1.86, -1.6, -1.32, -1.02, -0.74,
              -0.5, -0.31, -0.16, -0.05, 0.04, 0.1, 0.15, 0.19, 0.21, 0.23,
              0.25, 0.26, 0.27, 0.27, 0.28, 0.28, 0.29, 0.29, 0.29, 0.29,
              0.3, 0.3, 0.3, 0.3, 0.3])
well_58 = ([-2.6, -2.3, -2.9, -2.5, -2.2, -2.8, -2.4, -2.6, -3.2, -2.4,
            -2.6, -2.2, -2.7, -2.4, -2.9, -2.5, -2.3, -2.8, -2.6, -2.4]
           + [-2.7, -2.6, -2.8, -2.6, -2.7, -2.5, -2.4, -2.3, -2.15, -2.0,
              -1.87, -1.74, -1.62, -1.51, -1.41, -1.32, -1.24, -1.16, -1.09, -1.03,
              -0.97, -0.92, -0.87, -0.83, -0.79, -0.76, -0.73, -0.71, -0.69, -0.68,
              -0.67, -0.66, -0.66, -0.65, -0.65])
well_59 = ([-1.0, -1.02, -1.08, -1.12, -1.2, -1.18, -1.28, -1.35, -1.42, -1.5,
            -1.62, -1.7, -1.85, -1.95, -2.1, -2.2, -2.4, -2.3, -2.5, -2.3]
           + [-2.2, -2.05, -1.85, -1.6, -1.32, -1.02, -0.72, -0.45, -0.22, -0.04,
              0.1, 0.2, 0.27, 0.32, 0.36, 0.39, 0.41, 0.42, 0.43, 0.44,
              0.44, 0.45, 0.45, 0.45, 0.45, 0.46, 0.46, 0.46, 0.46, 0.46,
              0.46, 0.46, 0.47, 0.47, 0.47])
well_60 = ([-2.2, -2.9, -2.4, -2.1, -2.7, -3.3, -2.3, -2.5, -2.2, -2.8,
            -2.4, -2.3, -2.9, -2.5, -2.3, -2.6, -2.4, -2.7, -2.5, -3.9]
           + [-2.4, -2.3, -2.2, -2.05, -1.9, -1.74, -1.58, -1.42, -1.28, -1.14,
              -1.02, -0.91, -0.81, -0.72, -0.64, -0.57, -0.5, -0.44, -0.39, -0.34,
              -0.3, -0.26, -0.23, -0.2, -0.17, -0.15, -0.13, -0.11, -0.1, -0.09,
              -0.08, -0.07, -0.06, -0.06, -0.05])

wells = [well_01, well_02, well_03, well_04, well_05, well_06, well_07, well_08,
         well_09, well_10, well_11, well_12, well_13, well_14, well_15, well_16,
         well_17, well_18, well_19, well_20, well_21, well_22, well_23, well_24,
         well_25, well_26, well_27, well_28, well_29, well_30, well_31, well_32,
         well_33, well_34, well_35, well_36, well_37, well_38, well_39, well_40,
         well_41, well_42, well_43, well_44, well_45, well_46, well_47, well_48,
         well_49, well_50, well_51, well_52, well_53, well_54, well_55, well_56,
         well_57, well_58, well_59, well_60]

AA_COL = "#ef1515"
AG_COL = "#2fe52f"
GG_COL = "#1515dc"

PAGE_W, PAGE_H = 1940, 1016

# =============== Panel A figure =================
pA = figure(frame_width=658, frame_height=772, min_border_left=120, min_border_right=52,
            min_border_top=43, min_border_bottom=201, frame_align=False,
            x_range=Range1d(0.064, 2.611), y_range=Range1d(0.051, 5.753),
            output_backend="svg", toolbar_location=None)
pA.background_fill_color = "white"
pA.border_fill_color = "white"
pA.outline_line_color = "#111111"
pA.outline_line_width = 2

pA.xaxis.ticker = FixedTicker(ticks=a_major_x, minor_ticks=a_minor_x)
pA.yaxis.ticker = FixedTicker(ticks=a_major_y, minor_ticks=a_minor_y)
for ax in (pA.xaxis, pA.yaxis):
    ax.formatter = PrintfTickFormatter(format="%.1f")
    ax.axis_line_color = "#111111"
    ax.axis_line_width = 2
    ax.major_tick_in = 0
    ax.minor_tick_in = 0
    ax.major_tick_out = 5
    ax.minor_tick_out = 5
    ax.major_tick_line_color = "#999999"
    ax.minor_tick_line_color = "#999999"
    ax.major_label_text_font = "DejaVu Sans"
    ax.major_label_text_font_size = "11px"
    ax.major_label_text_color = "#333333"
    ax.axis_label_text_font = "DejaVu Sans"
    ax.axis_label_text_font_size = "12px"
    ax.axis_label_text_font_style = "normal"
    ax.axis_label_text_color = "#333333"
pA.xaxis.axis_label = "A"
pA.yaxis.axis_label = "G"
pA.xaxis.major_label_standoff = 10
pA.xaxis.axis_label_standoff = 16
pA.yaxis.major_label_standoff = 10
pA.yaxis.axis_label_standoff = 62

for g in (pA.xgrid, pA.ygrid):
    g.grid_line_color = "#c2c2c2"
    g.grid_line_width = 1.7
    g.minor_grid_line_color = "#c2c2c2"
    g.minor_grid_line_width = 1.7

pA.ellipse(x=aa_x, y=aa_y, width=15.5, height=13.5, width_units="screen",
           height_units="screen", fill_color=AA_COL, line_color=AA_COL)
pA.ellipse(x=ag_x, y=ag_y, width=15.5, height=13.5, width_units="screen",
           height_units="screen", fill_color=AG_COL, line_color=AG_COL)
pA.ellipse(x=gg_x, y=gg_y, width=15.5, height=13.5, width_units="screen",
           height_units="screen", fill_color=GG_COL, line_color=GG_COL)
pA.text(x=und_x, y=und_y, text=["X"], text_align="center", text_baseline="middle",
        text_font=value("Liberation Sans"), text_font_style="bold",
        text_font_size="19px", text_color="#111111")

# =============== Panel B figure =================
pB = figure(frame_width=934, frame_height=693, min_border_left=164, min_border_right=12,
            min_border_top=72, min_border_bottom=251, y_axis_type="log", frame_align=False,
            x_range=Range1d(1, 55), y_range=Range1d(1e-6, 10),
            output_backend="svg", toolbar_location=None)
pB.background_fill_color = "white"
pB.border_fill_color = "white"
pB.outline_line_color = "#c4c4c4"
pB.outline_line_width = 1.5

b_minor_y = [m * 10.0 ** e for e in range(-6, 1) for m in range(2, 10)]
pB.xaxis.ticker = FixedTicker(ticks=b_major_x)
pB.yaxis.ticker = FixedTicker(ticks=b_major_y, minor_ticks=b_minor_y)
pB.yaxis.formatter = CustomJSTickFormatter(code="""
const e = Math.round(Math.log10(tick));
if (e >= 0) { return String(Math.round(tick)); }
return tick.toFixed(-e);
""")
for ax in (pB.xaxis, pB.yaxis):
    ax.axis_line_color = "#8c8c8c"
    ax.axis_line_width = 2
    ax.major_tick_in = 0
    ax.major_tick_out = 4
    ax.minor_tick_in = 0
    ax.minor_tick_out = 0
    ax.major_tick_line_color = "#8c8c8c"
    ax.axis_label_text_font = "DejaVu Sans"
    ax.axis_label_text_font_size = "20px"
    ax.axis_label_text_font_style = "normal"
    ax.axis_label_text_color = "#222222"
pB.yaxis.major_label_text_font = "DejaVu Sans"
pB.yaxis.major_label_text_font_size = "17px"
pB.yaxis.major_label_text_color = "#222222"
pB.yaxis.major_label_standoff = 8
pB.xaxis.major_label_text_font = "Liberation Sans"
pB.xaxis.major_label_text_font_size = "14px"
pB.xaxis.major_label_text_color = "#333333"
pB.xaxis.major_label_standoff = 7
pB.xaxis.axis_label = "Cycle"
pB.xaxis.axis_label_standoff = 13
pB.yaxis.axis_label = "\u0394Rn"
pB.yaxis.axis_label_standoff = 10

pB.xgrid.grid_line_color = "#cfcfcf"
pB.xgrid.grid_line_dash = "2 3"
pB.ygrid.grid_line_color = "#c2c2c2"
pB.ygrid.grid_line_dash = "3 2"
pB.ygrid.minor_grid_line_color = "#d6d6d6"
pB.ygrid.minor_grid_line_dash = "2 3"

src = ColumnDataSource(dict(xs=[cycles for _ in wells],
                            ys=[[10.0 ** v for v in w] for w in wells]))
pB.multi_line(xs="xs", ys="ys", source=src, line_color="#ff0000", line_width=1.9)

# =============== Overlay (page-pixel coordinates) for panel tags, titles, legends
ov = figure(width=PAGE_W, height=PAGE_H, x_range=Range1d(0, PAGE_W),
            y_range=Range1d(PAGE_H, 0), min_border=0, frame_align=False,
            x_axis_location=None, y_axis_location=None,
            output_backend="svg", toolbar_location=None)
ov.grid.visible = False
ov.outline_line_color = None
ov.background_fill_color = None
ov.border_fill_color = None


def tag(left, right, top, bottom, letter):
    ov.add_layout(BoxAnnotation(left=left, right=right, top=top, bottom=bottom,
                                fill_color="white", fill_alpha=1.0, line_color="black",
                                line_width=1.5, border_radius=14))
    ov.add_layout(Label(x=(left + right) / 2, y=(top + bottom) / 2 + 1, text=letter,
                        text_align="center", text_baseline="middle",
                        text_font="Liberation Serif", text_font_style="bold",
                        text_font_size="42px", text_color="black"))


tag(3, 84, 5, 90, "A")
tag(854, 936, 8, 93, "B")

ov.add_layout(Label(x=575, y=14, text="Allelic Discrimination Plot", text_align="right",
                    text_baseline="middle", text_font="DejaVu Sans",
                    text_font_style="bold", text_font_size="21px", text_color="black"))
ov.add_layout(Label(x=579, y=14, text="(rs741301)", text_align="left",
                    text_baseline="middle", text_font="DejaVu Sans",
                    text_font_style="bold", text_font_size="19px", text_color="black"))
ov.add_layout(Label(x=1386, y=47, text="Amplification Plot", text_align="center",
                    text_baseline="middle", text_font="DejaVu Sans",
                    text_font_size="18px", text_color="#222222"))

# legend A
ov.add_layout(BoxAnnotation(left=5, right=816, top=885, bottom=1013, fill_alpha=0,
                            line_color="#cfcfcf", line_width=2, border_radius=6))
ov.add_layout(Label(x=16, y=886, text="Legend", text_baseline="middle",
                    text_font="DejaVu Sans", text_font_style="bold",
                    text_font_size="15px", text_color="#1f4e9e",
                    background_fill_color="white"))
for (lx, ly, dot_col, txt, txt_col) in [(31, 913, "#e01818", "A / A", "#d03a3a"),
                                        (31, 936, "#1f9a2f", "A / G", "#3d9a4c"),
                                        (325, 913, "#1414d0", "G / G", "#4c4c90")]:
    ov.add_layout(Label(x=lx, y=ly, text="\u25cf", text_align="center",
                        text_baseline="middle", text_font="DejaVu Sans",
                        text_font_size="11px", text_color=dot_col))
    ov.add_layout(Label(x=lx + 7, y=ly, text=txt, text_align="left",
                        text_baseline="middle", text_font="DejaVu Sans",
                        text_font_size="14px", text_color=txt_col))
ov.add_layout(Label(x=325, y=937, text="X", text_align="center", text_baseline="middle",
                    text_font="DejaVu Sans", text_font_size="15px", text_color="#111111"))
ov.add_layout(Label(x=332, y=936, text="Undetermined", text_align="left",
                    text_baseline="middle", text_font="DejaVu Sans",
                    text_font_size="14px", text_color="#222222"))

# legend B
ov.add_layout(BoxAnnotation(left=834, right=1936, top=857, bottom=973, fill_alpha=0,
                            line_color="#34495c", line_width=2))
ov.add_layout(Label(x=852, y=857, text=" Legend ", text_baseline="middle",
                    text_font="DejaVu Sans", text_font_size="12px",
                    text_color="#4a78b8", background_fill_color="white"))
ov.add_layout(BoxAnnotation(left=840, right=872, top=873, bottom=904,
                            fill_color="#ee1111", fill_alpha=1.0,
                            line_color="#cc0000", line_width=1))
ov.add_layout(Label(x=879, y=889, text="rs741301", text_baseline="middle",
                    text_font="DejaVu Sans", text_font_size="21px",
                    text_color="#222222"))

main = row(pA, pB)
root = GridBox(children=[(main, 0, 0), (ov, 0, 0)])
open("out.html", "w").write(file_html(root, INLINE, "plot"))
